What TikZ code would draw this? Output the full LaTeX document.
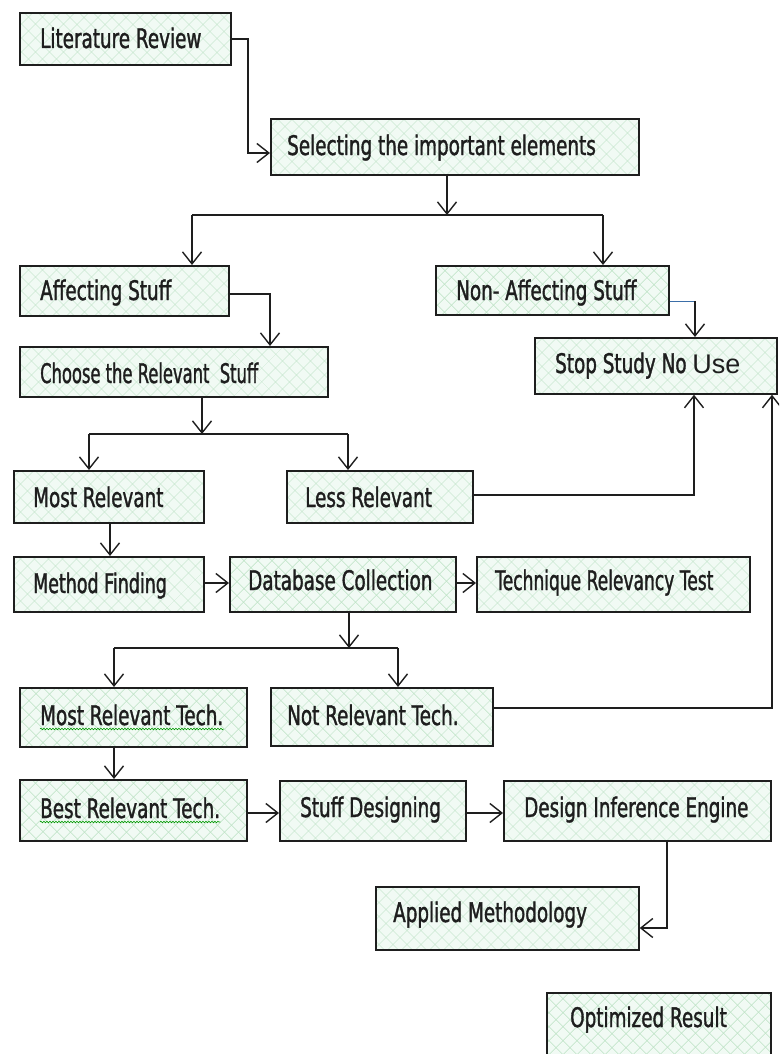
\documentclass[tikz,border=0pt]{standalone}
\usepackage{fontspec}
\usepackage{graphicx}
\setmainfont{DejaVu Sans}[FakeStretch=0.68,FakeBold=1.3]
\newfontfamily\wideuse{Liberation Sans}
\usetikzlibrary{arrows.meta,calc,patterns.meta,decorations.pathmorphing}
\definecolor{mint}{HTML}{F1FAF4}
\definecolor{hatchc}{HTML}{BCE2C4}
\definecolor{inkc}{HTML}{1E1E1E}
\definecolor{bluel}{HTML}{3B6EA8}
\tikzset{
  box/.style={rectangle, anchor=north west, inner sep=0pt, draw=inkc, line width=1.7pt,
    preaction={fill=mint},
    preaction={pattern={Lines[angle=45,distance=10.5pt,line width=0.6pt]}, pattern color=hatchc},
    preaction={pattern={Lines[angle=-45,distance=10.5pt,line width=0.6pt]}, pattern color=hatchc}},
  lbl/.style={anchor=base west, inner sep=0pt, text=inkc, font=\fontsize{27}{30}\selectfont},
  ln/.style={draw=inkc, line width=1.5pt},
  arr/.style={ln, -{Straight Barb[length=12pt,width=19pt,line width=1.4pt]}},
  squig/.style={draw=green!60!black, line width=0.6pt, decorate, decoration={snake, amplitude=0.8pt, segment length=3pt}}
}
\newcommand\bx[8]{%
  \node[box, minimum width=#4pt, minimum height=#5pt] (#1) at (#2,#3) {};
  \node[lbl] (#1t) at ($(#1.north west)+(#6,#7)$) {#8};}
\begin{document}
\begin{tikzpicture}[x=1pt,y=-1pt]
\useasboundingbox[fill=white] (0,0) rectangle (779,1054);
\clip (0,0) rectangle (779,1054);
\bx{LR}{19}{12}{211}{52}{21}{36}{Literature Review}
\bx{SEL}{270}{118}{368}{56}{17}{37}{Selecting the important elements}
\bx{AFF}{19}{265}{209}{50}{21}{35}{Affecting Stuff}
\bx{NON}{435}{265}{233}{49}{21}{35}{Non- Affecting Stuff}
\bx{CH}{19}{346}{308}{50}{21}{37}{\scalebox{0.89}[1]{Choose the Relevant\ \ Stuff}}
\bx{STOP}{534}{337}{242}{56}{21}{36}{Stop Study No {\wideuse Use}}
\bx{MR}{13}{470}{190}{52}{20}{37}{Most Relevant}
\bx{LESS}{286}{470}{186}{52}{19}{37}{Less Relevant}
\bx{MF}{13}{556}{190}{55}{20}{37}{\scalebox{0.95}[1]{Method Finding}}
\bx{DB}{229}{556}{226}{55}{19}{34}{Database Collection}
\bx{TECH}{476}{556}{273}{55}{19}{34}{\scalebox{0.93}[1]{Technique Relevancy Test}}
\bx{MRT}{19}{687}{227}{59}{21}{38}{Most Relevant Tech.}
\bx{NRT}{270}{687}{222}{58}{17}{38}{Not Relevant Tech.}
\bx{BRT}{19}{779}{227}{61}{21}{39}{Best Relevant Tech.}
\bx{SD}{279}{780}{186}{60}{21}{37}{Stuff Designing}
\bx{DIE}{503}{780}{267}{60}{21}{37}{Design Inference Engine}
\bx{AM}{375}{886}{263}{63}{18}{36}{Applied Methodology}
\bx{OPT}{546}{992}{224}{80}{24}{35}{Optimized Result}
% spell-check squiggles
\draw[squig] ($(MRTt.base west)+(0,4)$) -- ($(MRTt.base east)+(0,4)$);
\draw[squig] ($(BRTt.base west)+(0,4)$) -- ($(BRTt.base east)+(0,4)$);
% connectors
\coordinate (c1) at (248,153);
\draw[arr] (LR.east) -| (c1) -- (SEL.west|-c1);
\coordinate (j1) at (447,215);
\coordinate (j1l) at (192,215);
\coordinate (j1r) at (603,215);
\draw[arr] (SEL.south-|j1) -- (j1);
\draw[ln] (j1l) -- (j1r);
\draw[arr] (j1l) -- (j1l|-AFF.north);
\draw[arr] (j1r) -- (j1r|-NON.north);
\coordinate (n1) at (695,301);
\draw[draw=bluel, line width=0.8pt] (NON.east|-n1) -- (n1);
\draw[arr] (n1) -- (n1|-STOP.north);
\coordinate (c2) at (270,294);
\draw[arr] (AFF.east|-c2) -- (c2) -- (c2|-CH.north);
\coordinate (j2) at (202,434);
\coordinate (j2l) at (89,434);
\coordinate (j2r) at (348,434);
\draw[arr] (CH.south-|j2) -- (j2);
\draw[ln] (j2l) -- (j2r);
\draw[arr] (j2l) -- (j2l|-MR.north);
\draw[arr] (j2r) -- (j2r|-LESS.north);
\coordinate (c3) at (694,495);
\draw[arr] (LESS.east|-c3) -- (c3) -- (c3|-STOP.south);
\coordinate (c4) at (110,540);
\draw[arr] (MR.south-|c4) -- (MF.north-|c4);
\coordinate (c5) at (300,583);
\draw[arr] (MF.east|-c5) -- (DB.west|-c5);
\draw[arr] (DB.east|-c5) -- (TECH.west|-c5);
\coordinate (j3) at (349,648);
\coordinate (j3l) at (114,648);
\coordinate (j3r) at (398,648);
\draw[arr] (DB.south-|j3) -- (j3);
\draw[ln] (j3l) -- (j3r);
\draw[arr] (j3l) -- (j3l|-MRT.north);
\draw[arr] (j3r) -- (j3r|-NRT.north);
\coordinate (c6) at (772,708);
\draw[arr] (NRT.east|-c6) -- (c6) -- (c6|-STOP.south);
\draw[arr] (MRT.south-|j3l) -- (BRT.north-|j3l);
\coordinate (c7) at (300,813);
\draw[arr] (BRT.east|-c7) -- (SD.west|-c7);
\draw[arr] (SD.east|-c7) -- (DIE.west|-c7);
\coordinate (c8) at (667,928);
\draw[arr] (DIE.south-|c8) -- (c8) -- (AM.east|-c8);
\end{tikzpicture}
\end{document}
